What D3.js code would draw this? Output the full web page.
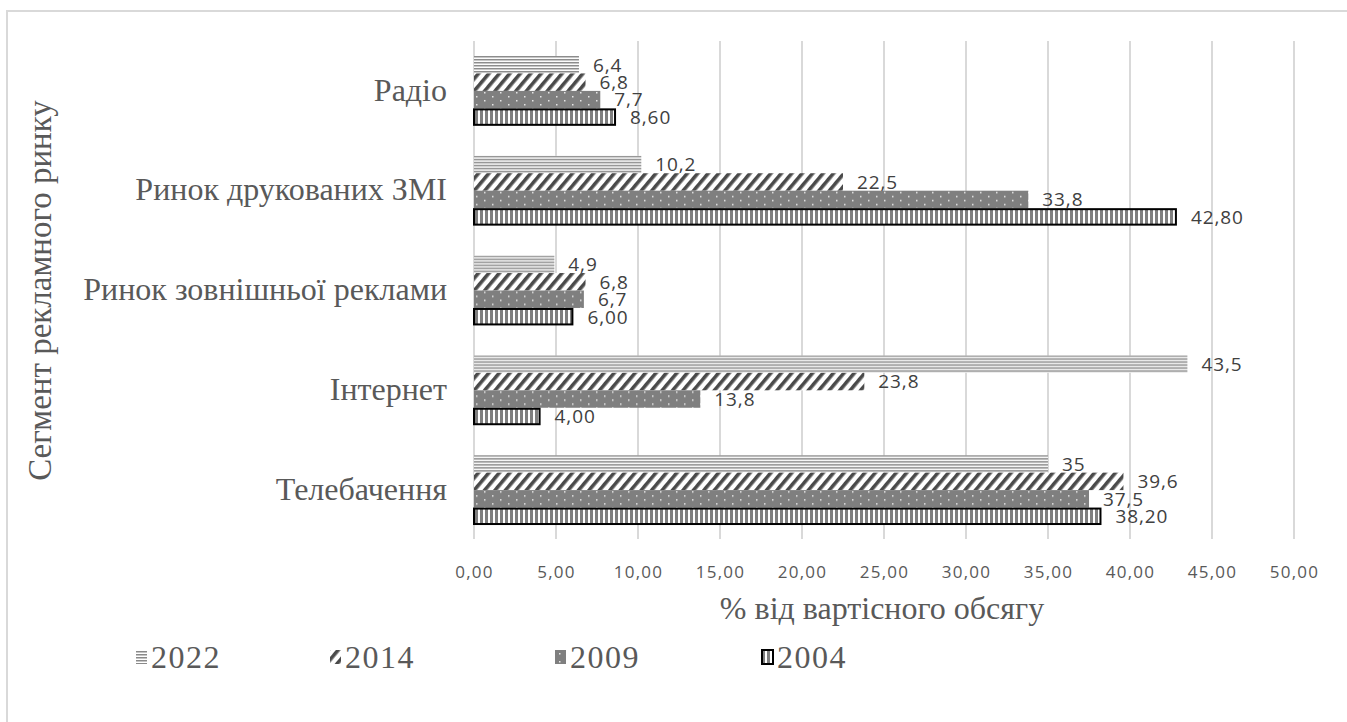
<!DOCTYPE html>
<html>
<head>
<meta charset="utf-8">
<script src="https://cdn.jsdelivr.net/npm/d3@7"></script>
<style>
  body { margin: 0; background: #fff; }
  svg { display: block; }
</style>
</head>
<body>
<svg id="chart" width="1347" height="722"></svg>
<script>
// Advertising market segments, top to bottom
const categories = ["Радіо", "Ринок друкованих ЗМІ", "Ринок зовнішньої реклами", "Інтернет", "Телебачення"];
// Series order inside each group, top to bottom
const years = ["2022", "2014", "2009", "2004"];
const values2022 = [6.4, 10.2, 4.9, 43.5, 35];
const values2014 = [6.8, 22.5, 6.8, 23.8, 39.6];
const values2009 = [7.7, 33.8, 6.7, 13.8, 37.5];
const values2004 = [8.6, 42.8, 6.0, 4.0, 38.2];
const xTicks = [0, 5, 10, 15, 20, 25, 30, 35, 40, 45, 50];
const xTitle = "% від вартісного обсягу";
const yTitle = "Сегмент рекламного ринку";

const comma = s => s.replace(".", ",");
const fmtPlain = v => comma(String(v));
const fmtFixed2 = v => comma(v.toFixed(2));

const series = [
  { key: "2022", values: values2022, fmt: fmtPlain },
  { key: "2014", values: values2014, fmt: fmtPlain },
  { key: "2009", values: values2009, fmt: fmtPlain },
  { key: "2004", values: values2004, fmt: fmtFixed2 }
];

const svg = d3.select("#chart");
const textGrey = "#595959";
const serif = "'Liberation Serif', 'Times New Roman', serif";
const sans = "'Open Sans', 'Noto Sans', sans-serif";

// ---- fill patterns ----
const defs = svg.append("defs");

// 2022: thin horizontal lines
const pH = defs.append("pattern").attr("id", "p2022")
  .attr("patternUnits", "userSpaceOnUse").attr("width", 6).attr("height", 3);
pH.append("rect").attr("width", 6).attr("height", 3).attr("fill", "#fff");
pH.append("rect").attr("y", 0).attr("width", 6).attr("height", 1.5).attr("fill", "#8a8a8a");

// 2014: wide dark diagonal hatch
const pD = defs.append("pattern").attr("id", "p2014")
  .attr("patternUnits", "userSpaceOnUse").attr("width", 8).attr("height", 8)
  .attr("patternTransform", "rotate(40)");
pD.append("rect").attr("width", 8).attr("height", 8).attr("fill", "#fff");
pD.append("rect").attr("x", 0).attr("width", 3.6).attr("height", 8).attr("fill", "#4a4a4a");

// 2009: solid grey with small white dots
const pS = defs.append("pattern").attr("id", "p2009")
  .attr("patternUnits", "userSpaceOnUse").attr("width", 16).attr("height", 8)
  .attr("y", 2);
pS.append("rect").attr("width", 16).attr("height", 8).attr("fill", "#7f7f7f");
pS.append("rect").attr("x", 4).attr("y", 2).attr("width", 1.5).attr("height", 1.5).attr("fill", "#e6e6e6");
pS.append("rect").attr("x", 12).attr("y", 6).attr("width", 1.5).attr("height", 1.5).attr("fill", "#e6e6e6");

// 2004: vertical stripes
const pV = defs.append("pattern").attr("id", "p2004")
  .attr("patternUnits", "userSpaceOnUse").attr("width", 5).attr("height", 4);
pV.append("rect").attr("width", 5).attr("height", 4).attr("fill", "#fff");
pV.append("rect").attr("x", 0).attr("width", 3).attr("height", 4).attr("fill", "#7f7f7f");

const fills = { "2022": "url(#p2022)", "2014": "url(#p2014)", "2009": "url(#p2009)", "2004": "url(#p2004)" };
const strokes = { "2022": "none", "2014": "none", "2009": "none", "2004": "#000" };

// ---- outer frame ----
svg.append("rect")
  .attr("x", 7).attr("y", 11).attr("width", 1360).attr("height", 740)
  .attr("fill", "none").attr("stroke", "#d9d9d9").attr("stroke-width", 2);

// ---- scales ----
const x = d3.scaleLinear().domain([0, 50]).range([474, 1294]);
const y = d3.scaleBand().domain(categories).range([41, 540])
  .paddingInner(0.3).paddingOuter(0.15);
const ySub = d3.scaleBand().domain(years).range([0, y.bandwidth()]);

// ---- gridlines ----
svg.append("g").selectAll("line").data(xTicks).join("line")
  .attr("x1", d => x(d)).attr("x2", d => x(d))
  .attr("y1", 41).attr("y2", 539)
  .attr("stroke", "#d9d9d9").attr("stroke-width", 2);

// ---- x axis ticks ----
const xAxis = d3.axisBottom(x).tickValues(xTicks).tickSize(0).tickPadding(0)
  .tickFormat(d => fmtFixed2(d));
const gx = svg.append("g").attr("transform", "translate(0,566)").call(xAxis);
gx.select(".domain").remove();
gx.selectAll("text")
  .attr("font-family", sans).attr("font-size", 17).attr("fill", textGrey)
  .attr("dy", "0.71em").style("letter-spacing", "1.2px");

// ---- y axis (category names) ----
const yAxis = d3.axisLeft(y).tickSize(0).tickPadding(27);
const gy = svg.append("g").attr("transform", "translate(474,0)").call(yAxis);
gy.select(".domain").remove();
gy.selectAll("text")
  .attr("font-family", serif).attr("font-size", 32).attr("fill", textGrey)
  .attr("dy", "0.3em");

// ---- bars ----
const groups = svg.append("g").selectAll("g").data(categories).join("g")
  .attr("transform", d => `translate(0,${y(d)})`);

series.forEach(s => {
  groups.append("rect")
    .attr("x", x(0))
    .attr("y", ySub(s.key) + (s.key === "2004" ? 1 : 0))
    .attr("height", ySub.bandwidth() - (s.key === "2004" ? 2 : 0))
    .attr("width", (d, i) => x(s.values[i]) - x(0))
    .attr("fill", fills[s.key])
    .attr("stroke", strokes[s.key])
    .attr("stroke-width", 2);
});

// ---- value labels ----
series.forEach(s => {
  groups.append("text")
    .attr("x", (d, i) => x(s.values[i]) + (s.key === "2004" ? 15 : 14))
    .attr("y", ySub(s.key) + ySub.bandwidth() / 2)
    .attr("dy", "0.36em")
    .attr("font-family", sans).attr("font-size", 19).attr("fill", "#404040")
    .style("letter-spacing", "0.9px")
    .text((d, i) => s.fmt(s.values[i]));
});

// ---- axis titles ----
svg.append("text")
  .attr("x", 882).attr("y", 619)
  .attr("text-anchor", "middle")
  .attr("font-family", serif).attr("font-size", 32).attr("fill", textGrey)
  .text(xTitle);

svg.append("text")
  .attr("transform", `translate(51,${(41 + 540) / 2}) rotate(-90)`)
  .attr("text-anchor", "middle")
  .attr("font-family", serif).attr("font-size", 33).attr("fill", textGrey)
  .text(yTitle);

// ---- legend ----
const legendX = [136, 330, 555, 762];
const legend = svg.append("g").selectAll("g").data(years).join("g")
  .attr("transform", (d, i) => `translate(${legendX[i]},657)`);
legend.append("rect")
  .attr("x", 0).attr("y", -7).attr("width", 11).attr("height", 14)
  .attr("fill", d => fills[d])
  .attr("stroke", d => strokes[d]).attr("stroke-width", 2);
legend.append("text")
  .attr("x", 15).attr("dy", "0.35em")
  .attr("font-family", serif).attr("font-size", 32).attr("fill", textGrey)
  .style("letter-spacing", "1.5px")
  .text(d => d);
</script>
</body>
</html>
